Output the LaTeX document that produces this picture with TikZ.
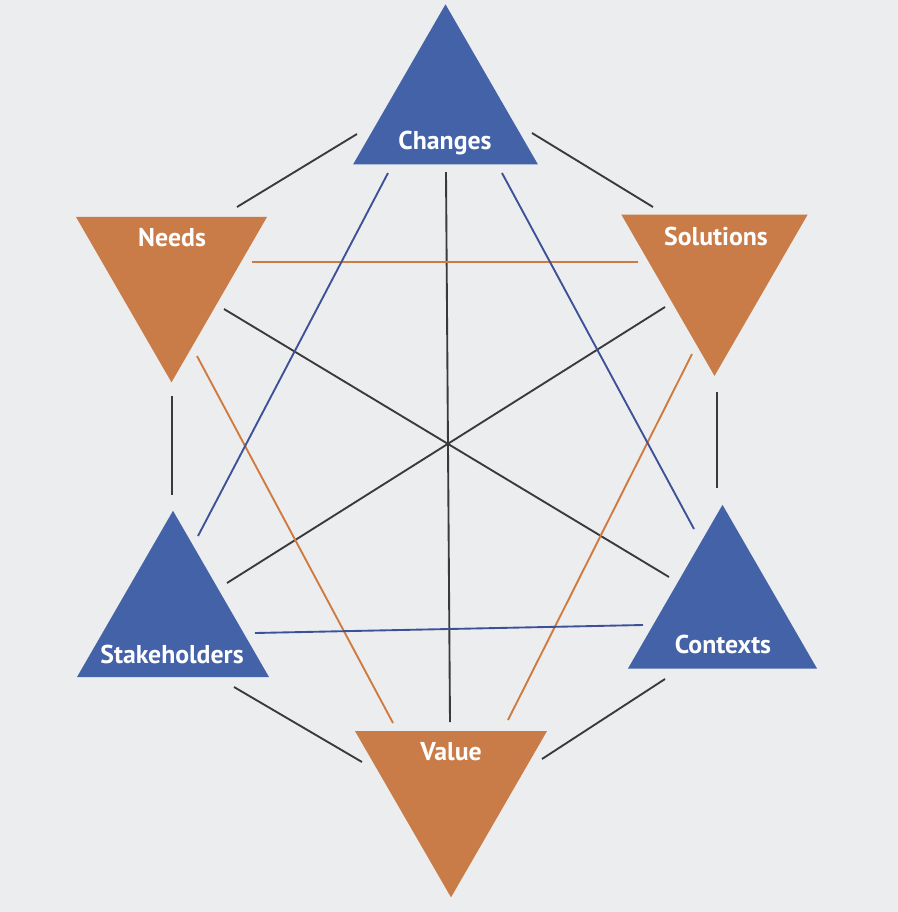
\documentclass[tikz,border=0pt]{standalone}
\usepackage{fontspec}
\setmainfont{PT Sans}
\usetikzlibrary{shapes.geometric}
\definecolor{paper}{HTML}{ECEDEE}
\definecolor{triblue}{HTML}{4462A8}
\definecolor{triorange}{HTML}{C97B48}
\definecolor{lineblue}{HTML}{3D5199}
\definecolor{lineorange}{HTML}{CF7A3E}
\definecolor{linegray}{HTML}{3A3A3A}
\tikzset{
  tri/.style={regular polygon, regular polygon sides=3, draw=none, inner sep=0pt, outer sep=0pt},
  triup/.style={tri, fill=triblue},
  tridown/.style={tri, fill=triorange, shape border rotate=180},
  lab/.style={text=white, font=\fontsize{22}{26}\selectfont\bfseries, inner sep=0pt, anchor=base},
  conn/.style={line width=1.6pt},
  gline/.style={conn, draw=linegray},
  bline/.style={conn, draw=lineblue},
  oline/.style={conn, draw=lineorange}
}
\begin{document}
\begin{tikzpicture}[x=0.03cm, y=-0.03cm]
\fill[paper] (0,0) rectangle (898,912);
\useasboundingbox (0,0) rectangle (898,912);
% triangles
\node[triup, minimum size=6.40cm] (C) at (445.5,111) {};
\node[tridown, minimum size=6.62cm] (N) at (171.5,272) {};
\node[tridown, minimum size=6.45cm] (S) at (714.5,268.4) {};
\node[triup, minimum size=6.65cm] (St) at (173,621.6) {};
\node[triup, minimum size=6.55cm] (Co) at (722.5,614) {};
\node[tridown, minimum size=6.65cm] (V) at (451,786.5) {};
% labels
\node[lab] (tC) at (445,149) {Changes};
\node[lab] (tN) at (172,246) {Needs};
\node[lab] (tS) at (716,245) {Solutions};
\node[lab] (tSt) at (172,663) {Stakeholders};
\node[lab] (tCo) at (723,653) {Contexts};
\node[lab] (tV) at (451,760) {Value};
% hexagon edges
\draw[gline] ([shift={(-88.5,23)}]C.center) -- ([shift={(65.5,-65)}]N.center);
\draw[gline] ([shift={(86.5,22)}]C.center) -- ([shift={(-61.5,-61.4)}]S.center);
\draw[gline] ([shift={(0.5,124)}]N.center) -- ([shift={(-1,-126.6)}]St.center);
\draw[gline] ([shift={(2.5,123.6)}]S.center) -- ([shift={(-5.5,-126)}]Co.center);
\draw[gline] ([shift={(61,65.4)}]St.center) -- ([shift={(-89,-24.5)}]V.center);
\draw[gline] ([shift={(-57.5,65)}]Co.center) -- ([shift={(91,-27.5)}]V.center);
% long diagonals
\draw[gline] ([shift={(0.5,61)}]C.center) -- ([shift={(-1,-64.5)}]V.center);
\draw[gline] ([shift={(52.5,37)}]N.center) -- ([shift={(-53.5,-37)}]Co.center);
\draw[gline] ([shift={(-49.5,38.6)}]S.center) -- ([shift={(54,-38.6)}]St.center);
% orange triangle
\draw[oline] ([shift={(80.5,-10)}]N.center) -- ([shift={(-76.5,-6.4)}]S.center);
\draw[oline] ([shift={(25.5,84)}]N.center) -- ([shift={(-58,-63.5)}]V.center);
\draw[oline] ([shift={(-22.5,85.6)}]S.center) -- ([shift={(57,-66.5)}]V.center);
% blue triangle
\draw[bline] ([shift={(-57.5,62)}]C.center) -- ([shift={(25,-85.6)}]St.center);
\draw[bline] ([shift={(56.5,62)}]C.center) -- ([shift={(-28.5,-85)}]Co.center);
\draw[bline] ([shift={(82,11.4)}]St.center) -- ([shift={(-79.5,11)}]Co.center);
\end{tikzpicture}
\end{document}
